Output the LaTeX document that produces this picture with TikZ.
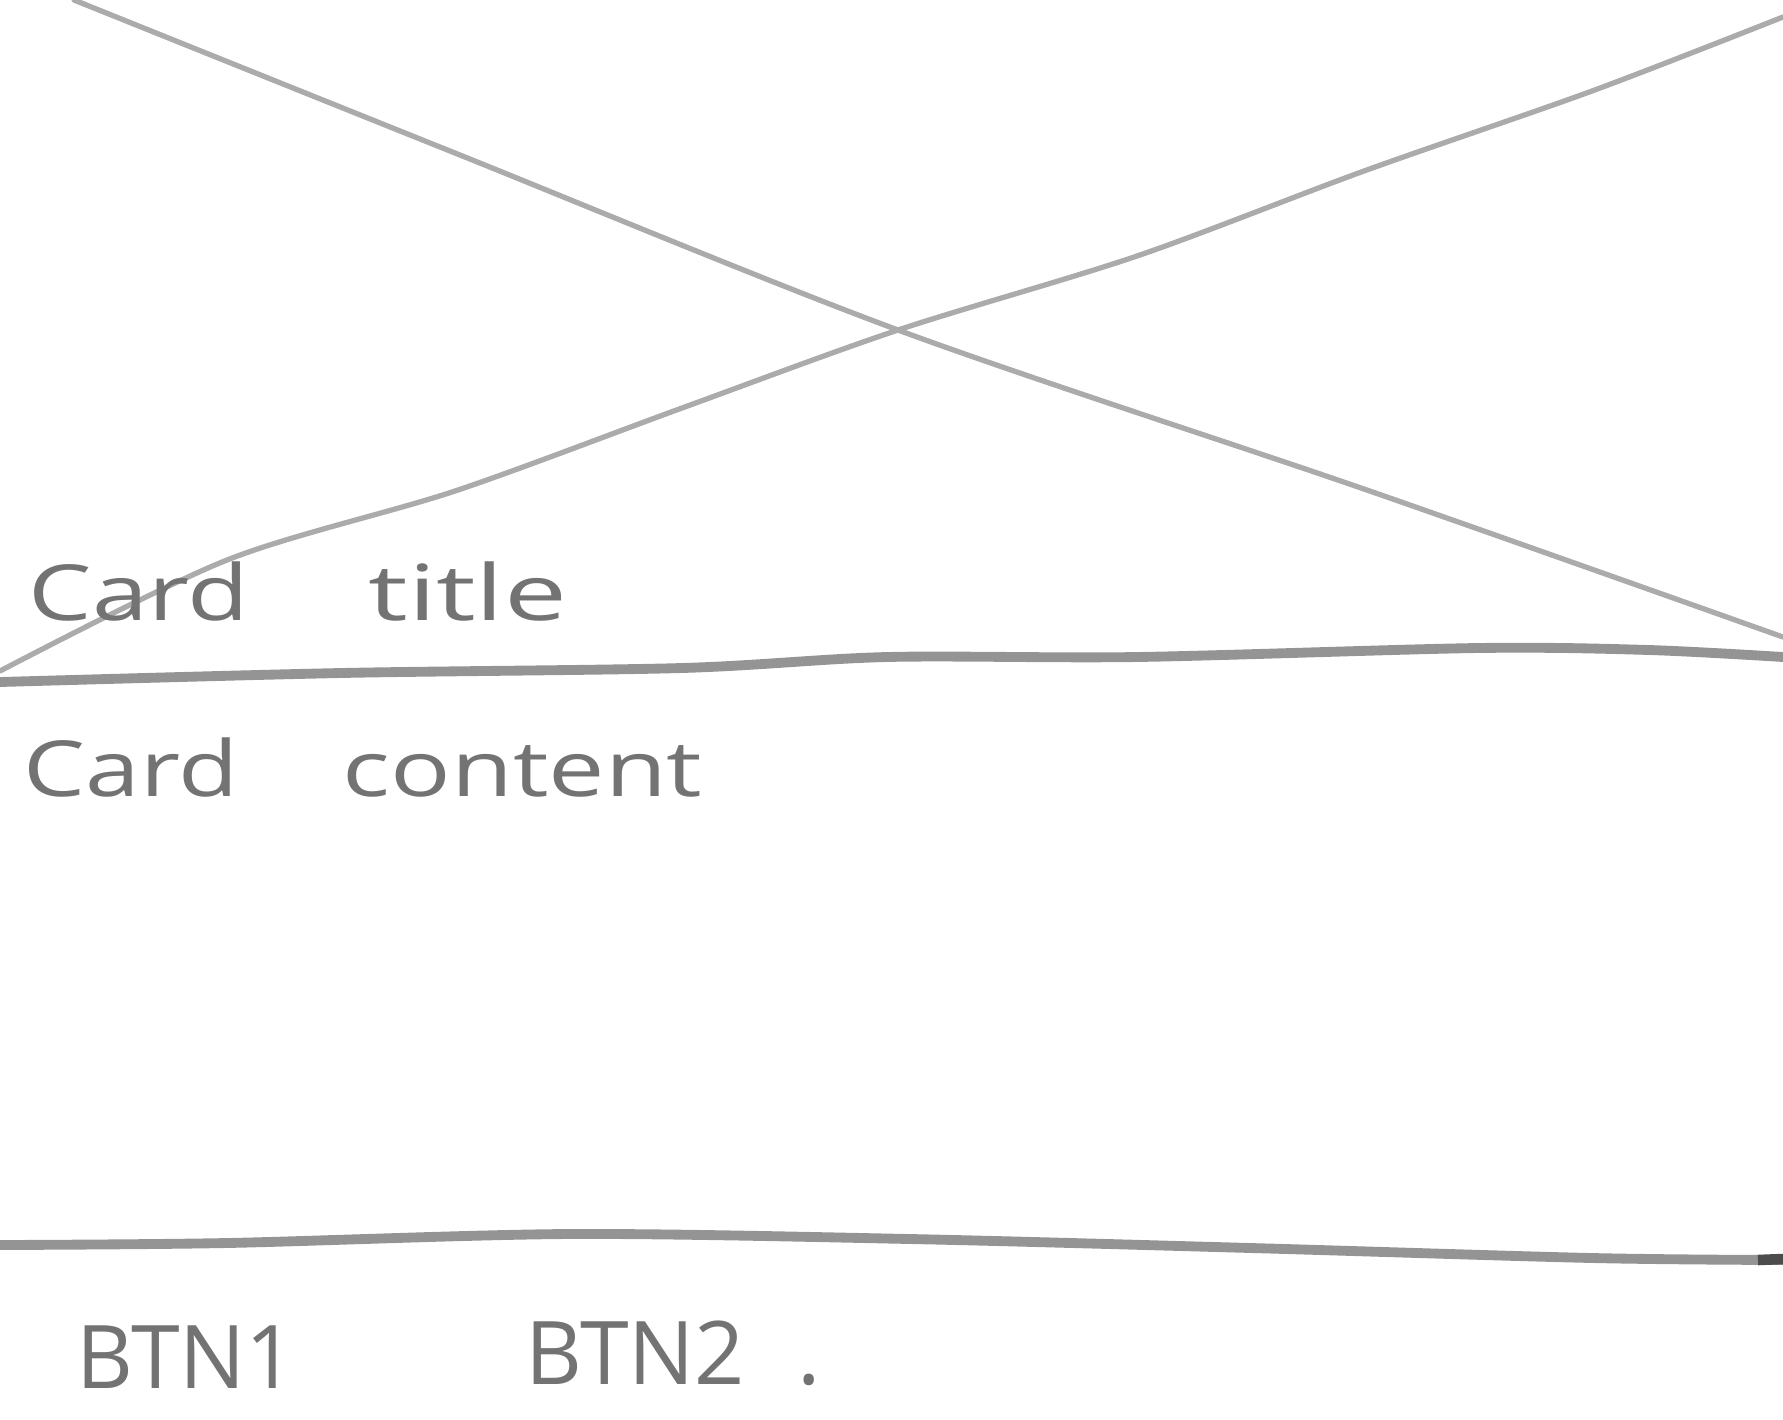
\documentclass[tikz,border=0pt]{standalone}
\usepackage{fontspec}
\setmainfont{Open Sans}
\usepackage{graphicx}
\usepackage{tikz}
\usetikzlibrary{positioning}

\begin{document}
\begin{tikzpicture}[
  thinline/.style={draw=black!33, line width=1.5pt, line cap=round},
  rule/.style={draw=black!42, line width=2.8pt, line cap=round},
  hand/.style={inner sep=0pt, anchor=base west, text=black!55,
               font=\fontsize{22}{26}\selectfont}
]
  \useasboundingbox (0,0) rectangle (17.83,-14.19);

  % cross over the image area
  \draw[thinline] plot[smooth] coordinates {(0.74,0) (4.55,-1.53) (8.98,-3.30) (13.64,-4.89) (17.83,-6.37)};
  \draw[thinline] plot[smooth] coordinates {(0,-6.71) (2.27,-5.60) (4.55,-4.91) (6.82,-4.08) (8.98,-3.30) (11.37,-2.56) (13.64,-1.71) (15.92,-0.91) (17.83,-0.17)};

  % dividers
  \draw[rule] plot[smooth] coordinates {(0,-6.82) (3.41,-6.73) (6.82,-6.68) (8.87,-6.57) (11.37,-6.57) (14.78,-6.48) (16.49,-6.50) (17.83,-6.57)};
  \draw[rule] plot[smooth] coordinates {(0,-12.45) (2.27,-12.43) (5.69,-12.34) (9.10,-12.39) (12.51,-12.48) (15.92,-12.58) (17.83,-12.60)};
  \draw[draw=black!70, line width=3pt] (17.58,-12.60) -- (17.83,-12.59);

  \node[hand] (title)   at (0.28,-6.20)  {\scalebox{1.3}[1]{Card}\hspace{1.55em}\scalebox{1.45}[1]{title}};
  \node[hand] (content) at (0.23,-7.96)  {\scalebox{1.27}[1]{Card}\hspace{1.35em}\scalebox{1.3}[1]{content}};
  \node[hand, font=\fontsize{25}{30}\selectfont] (btnA) at (0.76,-13.88) {BTN1};
  \node[hand, font=\fontsize{25}{30}\selectfont] (btnB) at (5.25,-13.84) {BTN2\hspace{0.6em}.};
\end{tikzpicture}
\end{document}
